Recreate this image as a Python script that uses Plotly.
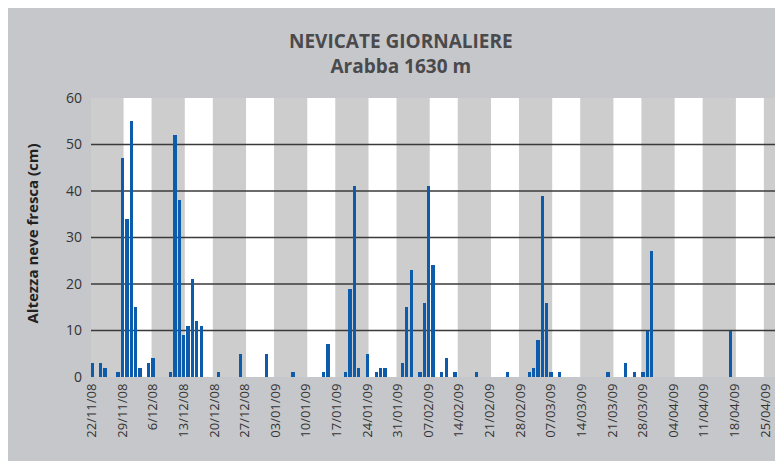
import datetime as dt
import plotly.graph_objects as go

# ---- data ----
snow_dates = [
    "2008-11-22", "2008-11-24", "2008-11-25", "2008-11-28", "2008-11-29", "2008-11-30",
    "2008-12-01", "2008-12-02", "2008-12-03", "2008-12-05", "2008-12-06", "2008-12-10",
    "2008-12-11", "2008-12-12", "2008-12-13", "2008-12-14", "2008-12-15", "2008-12-16",
    "2008-12-17", "2008-12-21", "2008-12-26",
    "2009-01-01", "2009-01-07", "2009-01-14", "2009-01-15", "2009-01-19", "2009-01-20",
    "2009-01-21", "2009-01-22", "2009-01-24", "2009-01-26", "2009-01-27", "2009-01-28",
    "2009-02-01", "2009-02-02", "2009-02-03", "2009-02-05", "2009-02-06", "2009-02-07",
    "2009-02-08", "2009-02-10", "2009-02-11", "2009-02-13", "2009-02-18", "2009-02-25",
    "2009-03-02", "2009-03-03", "2009-03-04", "2009-03-05", "2009-03-06", "2009-03-07",
    "2009-03-09", "2009-03-20", "2009-03-24", "2009-03-26", "2009-03-28", "2009-03-29",
    "2009-03-30", "2009-04-17", "2009-04-29",
]
snow_cm = [
    3, 3, 2, 1, 47, 34,
    55, 15, 2, 3, 4, 1,
    52, 38, 9, 11, 21, 12,
    11, 1, 5,
    5, 1, 1, 7, 1, 19,
    41, 2, 5, 1, 2, 2,
    3, 15, 23, 1, 16, 41,
    24, 1, 4, 1, 1, 1,
    1, 2, 8, 39, 16, 1,
    1, 1, 3, 1, 1, 10,
    27, 10, 14,
]
tick_dates = [
    "2008-11-22", "2008-11-29", "2008-12-06", "2008-12-13", "2008-12-20", "2008-12-27",
    "2009-01-03", "2009-01-10", "2009-01-17", "2009-01-24", "2009-01-31", "2009-02-07",
    "2009-02-14", "2009-02-21", "2009-02-28", "2009-03-07", "2009-03-14", "2009-03-21",
    "2009-03-28", "2009-04-04", "2009-04-11", "2009-04-18", "2009-04-25",
]
tick_labels = [
    "22/11/08", "29/11/08", "6/12/08", "13/12/08", "20/12/08", "27/12/08",
    "03/01/09", "10/01/09", "17/01/09", "24/01/09", "31/01/09", "07/02/09",
    "14/02/09", "21/02/09", "28/02/09", "07/03/09", "14/03/09", "21/03/09",
    "28/03/09", "04/04/09", "11/04/09", "18/04/09", "25/04/09",
]
y_ticks = [0, 10, 20, 30, 40, 50, 60]
grid_values = [10, 20, 30, 40, 50]

title_text = "NEVICATE GIORNALIERE<br>Arabba 1630 m"
y_title = "Altezza neve fresca (cm)"

# ---- styling ----
FONT = "Open Sans"
BAR_BLUE = "#0d5cab"
BAND_GREY = "#cdcdcd"
OUTER_GREY = "#c6c7cb"
DAY_MS = 86400000

start = dt.datetime(2008, 11, 22)
x_range = [start - dt.timedelta(days=0.2), start + dt.timedelta(days=159.85)]

fig = go.Figure()
fig.add_trace(go.Bar(
    x=snow_dates, y=snow_cm,
    width=[0.75 * DAY_MS] * len(snow_cm),
    marker=dict(color=BAR_BLUE, line=dict(width=0)),
    hoverinfo="x+y",
))

shapes = []
# alternating weekly bands (grey on even weeks)
for k in range(0, 12):
    b0 = start + dt.timedelta(days=14 * k - 0.35)
    b1 = start + dt.timedelta(days=14 * k + 7.25)
    shapes.append(dict(type="rect", xref="x", yref="paper", x0=b0, x1=b1, y0=0, y1=1,
                       fillcolor=BAND_GREY, line_width=0, layer="below"))
# horizontal grid lines
for g in grid_values:
    shapes.append(dict(type="line", xref="paper", yref="y", x0=0, x1=1, y0=g, y1=g,
                       line=dict(color="#3a3a3a", width=1.5), layer="between"))

fig.update_layout(
    width=783, height=461,
    margin=dict(l=83, r=0, t=90, b=92),
    paper_bgcolor=OUTER_GREY,
    plot_bgcolor="white",
    showlegend=False,
    bargap=0,
    font=dict(family=FONT, color="#333333"),
    shapes=shapes,
    annotations=[
        dict(text=title_text, xref="paper", yref="paper", x=0.4429, y=1.1588,
             xanchor="center", yanchor="middle", showarrow=False, align="center",
             font=dict(family=FONT, size=19, color="#4a4a4d", weight="bold")),
        dict(text="<b>" + y_title + "</b>", xref="paper", yref="paper",
             x=-0.0843, y=0.5143, textangle=-90, xanchor="center", yanchor="middle",
             showarrow=False, font=dict(family=FONT, size=15, color="#222222")),
    ],
    xaxis=dict(type="date", range=x_range, tickmode="array", tickvals=tick_dates,
               ticktext=tick_labels, tickangle=-90, showgrid=False, zeroline=False,
               showline=False, ticks="", ticklabelstandoff=3,
               tickfont=dict(size=13, color="#333333")),
    yaxis=dict(range=[0, 60], tickmode="array", tickvals=y_ticks, showgrid=False,
               zeroline=False, showline=False, ticks="", ticklabelstandoff=8,
               tickfont=dict(size=14, color="#333333")),
)

fig.write_html("out.html")
